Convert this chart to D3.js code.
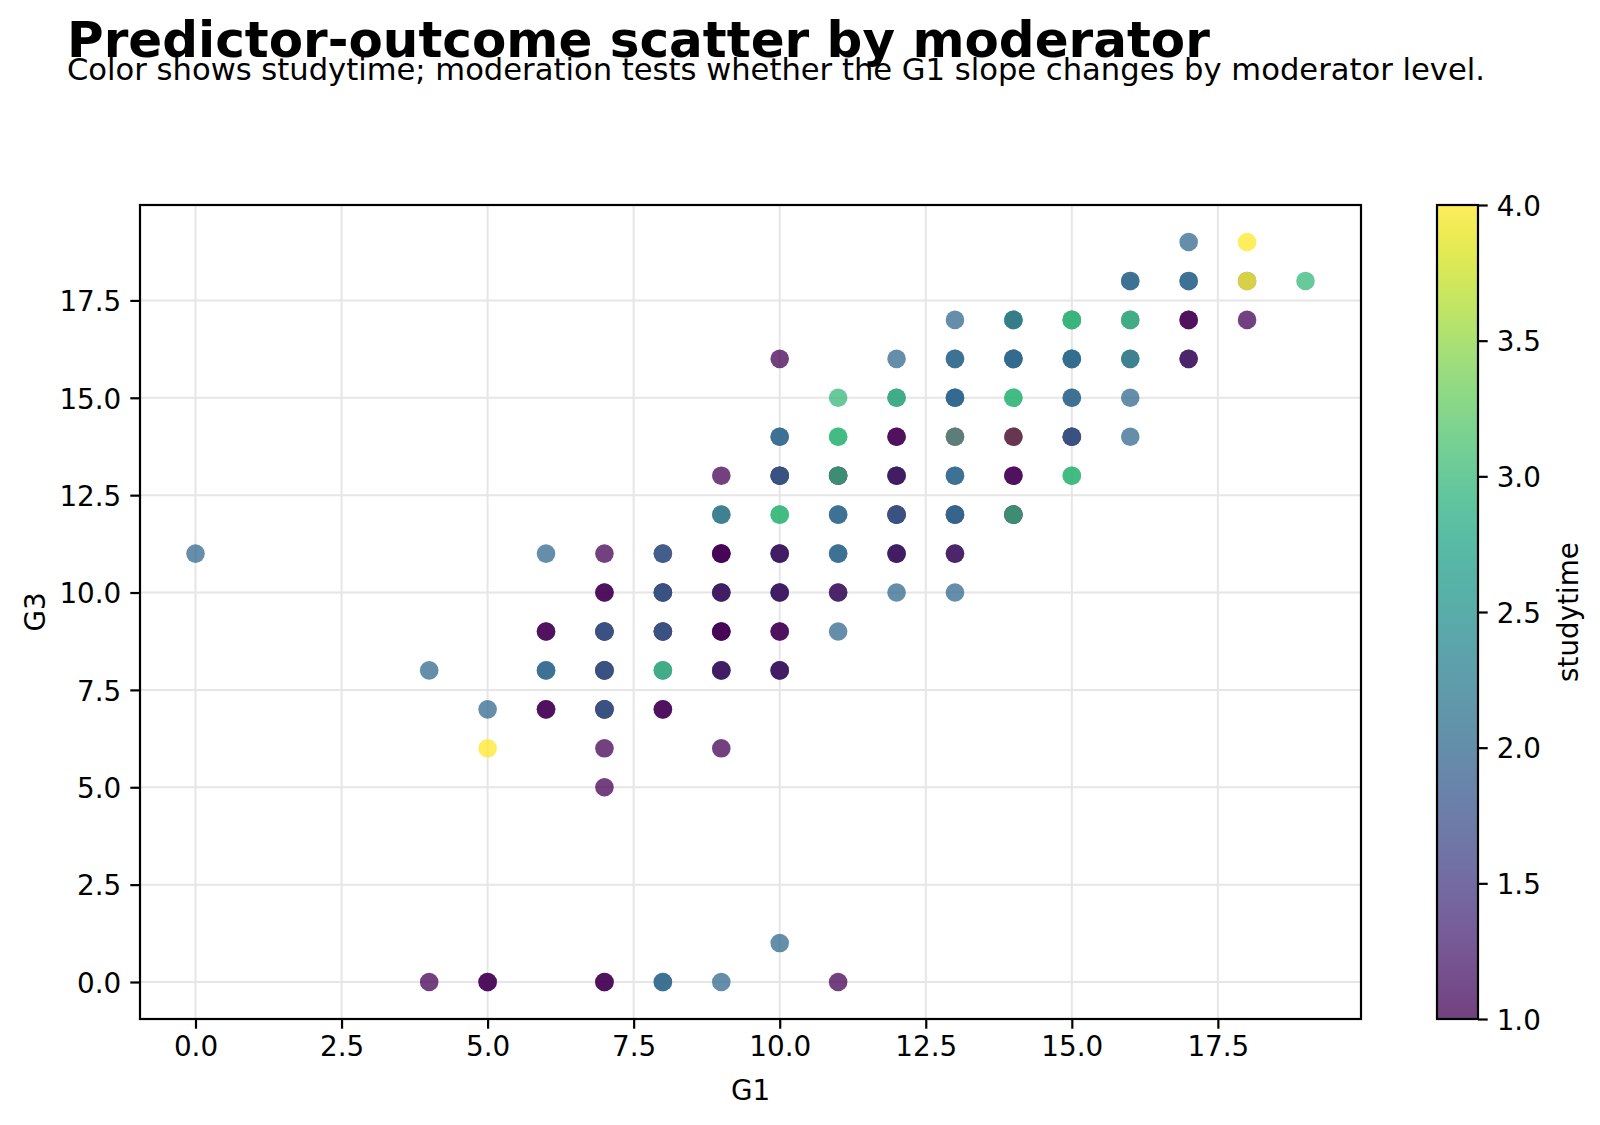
<!DOCTYPE html>
<html>
<head>
<meta charset="utf-8">
<script src="https://cdn.jsdelivr.net/npm/d3@7"></script>
<style>
  body { margin: 0; background: #fff; }
  svg { font-family: "DejaVu Sans", sans-serif; }
  .tick text { font-size: 27.8px; fill: #000; }
</style>
</head>
<body>
<svg width="1600" height="1125"></svg>
<script>
// one entry per (G1, G3) cell; studytime lists the students stacked there, bottom first
var g1Values = [0, 4, 4, 5, 5, 5, 6, 6, 6, 6, 7, 7, 7, 7, 7, 7, 7, 7, 8, 8, 8, 8, 8, 8,
  9, 9, 9, 9, 9, 9, 9, 9, 10, 10, 10, 10, 10, 10, 10, 10, 10, 11, 11, 11, 11, 11, 11, 11, 11,
  12, 12, 12, 12, 12, 12, 12, 13, 13, 13, 13, 13, 13, 13, 13, 14, 14, 14, 14, 14, 14,
  15, 15, 15, 15, 15, 16, 16, 16, 16, 16, 17, 17, 17, 17, 18, 18, 18, 19];
var g3Values = [11, 8, 0, 7, 6, 0, 11, 9, 8, 7, 11, 10, 9, 8, 7, 6, 5, 0, 11, 10, 9, 8, 7, 0,
  13, 12, 11, 10, 9, 8, 6, 0, 16, 14, 13, 12, 11, 10, 9, 8, 1, 15, 14, 13, 12, 11, 10, 9, 0,
  16, 15, 14, 13, 12, 11, 10, 17, 16, 15, 14, 13, 12, 11, 10, 17, 16, 15, 14, 13, 12,
  17, 16, 15, 14, 13, 18, 17, 16, 15, 14, 19, 18, 17, 16, 19, 18, 17, 18];
var studytimeStacks = [[2], [2], [1], [2], [4], [1, 1], [2], [1, 1], [2, 2], [1, 1],
  [1], [1, 1], [1, 1, 2], [1, 1, 2], [1, 1, 2], [1], [1], [1, 1],
  [1, 2], [1, 1, 2], [1, 1, 2], [2, 3], [1, 1], [2, 2],
  [1], [3, 2], [1, 1, 1], [2, 2, 1], [1, 1, 1], [2, 2, 1], [1], [2],
  [1], [2, 2], [1, 1, 2], [3, 3], [2, 2, 1], [2, 2, 1], [1, 1], [2, 2, 1], [2],
  [3], [3, 3], [1, 1, 3], [2, 2], [2, 2], [2, 1], [2], [1],
  [2], [2, 3], [1, 1], [2, 2, 1], [1, 1, 2], [2, 2, 1], [2],
  [2], [2, 2], [2, 2, 2], [1, 4, 2], [2, 2], [1, 2, 2], [2, 1], [2],
  [3, 3, 2], [2, 2, 2], [3, 3], [2, 4, 1], [1, 1], [1, 1, 3],
  [2, 3, 3], [3, 2, 2], [2, 2], [1, 1, 2], [3, 3],
  [2, 2], [2, 3], [3, 2], [2], [2],
  [2], [2, 2], [1, 1], [2, 1],
  [4], [2, 4], [1], [3]];

var xTicks = [0, 2.5, 5, 7.5, 10, 12.5, 15, 17.5];
var yTicks = [0, 2.5, 5, 7.5, 10, 12.5, 15, 17.5];
var cbTicks = [1, 1.5, 2, 2.5, 3, 3.5, 4];

var titulo = "Predictor-outcome scatter by moderator";
var subtitulo = "Color shows studytime; moderation tests whether the G1 slope changes by moderator level.";

function dibujar() {
  var svg = d3.select("svg"),
    margin = {top: 205, left: 140},
    width = 1221,
    height = 814,
    g = svg.append("g").attr("transform", "translate(" + margin.left + "," + margin.top + ")");

  var x = d3.scaleLinear().domain([-0.95, 19.95]).range([0, width]),
    y = d3.scaleLinear().domain([-0.95, 19.95]).range([height, 0]),
    color = d3.scaleSequential(d3.interpolateViridis).domain([1, 4]);

  var puntos = [];
  g1Values.forEach(function(v, i) {
    studytimeStacks[i].forEach(function(s) {
      puntos.push({g1: v, g3: g3Values[i], studytime: s});
    });
  });

  // grid
  g.append("g").selectAll("line").data(xTicks).enter().append("line")
    .attr("x1", function(d) { return x(d); }).attr("x2", function(d) { return x(d); })
    .attr("y1", 0).attr("y2", height)
    .attr("stroke", "#e6e6e6").attr("stroke-width", 2);
  g.append("g").selectAll("line").data(yTicks).enter().append("line")
    .attr("y1", function(d) { return y(d); }).attr("y2", function(d) { return y(d); })
    .attr("x1", 0).attr("x2", width)
    .attr("stroke", "#e6e6e6").attr("stroke-width", 2);

  g.append("g").selectAll("circle").data(puntos).enter().append("circle")
    .attr("cx", function(d) { return x(d.g1); })
    .attr("cy", function(d) { return y(d.g3); })
    .attr("r", 9.3)
    .attr("fill", function(d) { return color(d.studytime); })
    .attr("fill-opacity", 0.75);

  var fmt = d3.format(".1f");

  var ax = g.append("g")
    .attr("transform", "translate(0," + height + ")")
    .call(d3.axisBottom(x).tickValues(xTicks).tickFormat(fmt).tickSize(9.7).tickPadding(8));
  var ay = g.append("g")
    .call(d3.axisLeft(y).tickValues(yTicks).tickFormat(fmt).tickSize(9.7).tickPadding(9));
  [ax, ay].forEach(function(a) {
    a.select(".domain").remove();
    a.selectAll(".tick line").attr("stroke", "#000").attr("stroke-width", 2.2);
    a.selectAll(".tick text").attr("font-family", "DejaVu Sans");
  });
  ax.selectAll(".tick text").attr("dy", "0.71em");
  ay.selectAll(".tick text").attr("dy", "0.37em");

  g.append("rect")
    .attr("width", width).attr("height", height)
    .attr("fill", "none").attr("stroke", "#000").attr("stroke-width", 2.2);

  g.append("text")
    .attr("x", width / 2).attr("y", 895)
    .attr("text-anchor", "middle")
    .style("font-size", "27.8px")
    .text("G1");

  g.append("text")
    .attr("transform", "translate(" + (45 - margin.left) + "," + (height / 2) + ") rotate(-90)")
    .attr("text-anchor", "middle")
    .style("font-size", "27.8px")
    .text("G3");

  // colorbar
  var cbX = 1437, cbW = 41;
  var cy = d3.scaleLinear().domain([1, 4]).range([margin.top + height, margin.top]);
  var grad = svg.append("defs").append("linearGradient")
    .attr("id", "viridis").attr("x1", 0).attr("x2", 0).attr("y1", 1).attr("y2", 0);
  d3.range(0, 1.0001, 0.05).forEach(function(t) {
    grad.append("stop")
      .attr("offset", t)
      .attr("stop-color", d3.interpolateViridis(t));
  });
  svg.append("rect")
    .attr("x", cbX).attr("y", margin.top)
    .attr("width", cbW).attr("height", height)
    .attr("fill", "url(#viridis)").attr("fill-opacity", 0.75);
  svg.append("rect")
    .attr("x", cbX).attr("y", margin.top)
    .attr("width", cbW).attr("height", height)
    .attr("fill", "none").attr("stroke", "#000").attr("stroke-width", 2.2);

  var acb = svg.append("g")
    .attr("transform", "translate(" + (cbX + cbW) + ",0)")
    .call(d3.axisRight(cy).tickValues(cbTicks).tickFormat(fmt).tickSize(9.7).tickPadding(9));
  acb.select(".domain").remove();
  acb.selectAll(".tick line").attr("stroke", "#000").attr("stroke-width", 2.2);
  acb.selectAll(".tick text").attr("dy", "0.37em").attr("font-family", "DejaVu Sans");

  svg.append("text")
    .attr("transform", "translate(1578," + (margin.top + height / 2) + ") rotate(-90)")
    .attr("text-anchor", "middle")
    .style("font-size", "27.8px")
    .text("studytime");

  svg.append("text")
    .attr("x", 67).attr("y", 57)
    .style("font-size", "50px")
    .style("font-weight", "bold")
    .text(titulo);
  svg.append("text")
    .attr("x", 67).attr("y", 80)
    .style("font-size", "30.6px")
    .text(subtitulo);
}

dibujar();
</script>
</body>
</html>
